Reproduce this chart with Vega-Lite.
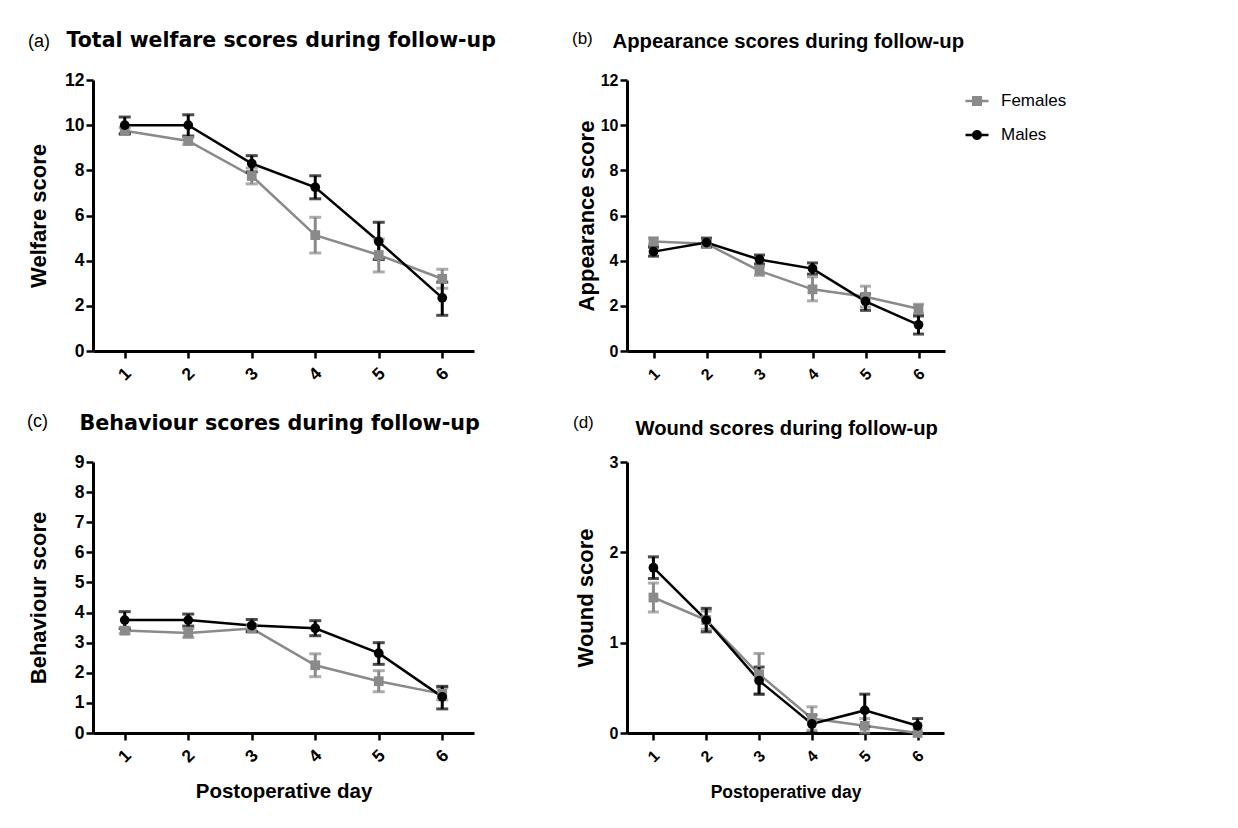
{
  "$schema": "https://vega.github.io/schema/vega-lite/v6.json",
  "background": "white",
  "padding": {"left": 26, "top": 30, "right": 5, "bottom": 5},
  "bounds": "flush",
  "columns": 2,
  "spacing": {"row": 111, "column": 153},
  "resolve": {"scale": {"color": "independent", "shape": "independent"}, "legend": {"color": "independent", "shape": "independent"}},
  "config": {
    "view": {"stroke": null},
    "font": "Liberation Sans",
    "axis": {
      "grid": false,
      "domainColor": "#000000",
      "domainWidth": 3,
      "tickColor": "#000000",
      "tickWidth": 2.5,
      "tickSize": 7,
      "labelColor": "#000000",
      "labelFont": "Liberation Sans",
      "labelFontWeight": "bold",
      "labelFontSize": 17.5,
      "labelFlush": false,
      "labelOverlap": false,
      "labelBound": false,
      "titleColor": "#000000",
      "titleFont": "Liberation Sans",
      "titleFontWeight": "bold"
    },
    "title": {"color": "#000000"}
  },
  "datasets": {
    "scores": [
      {"panel": "a", "day": 1, "group": "Females", "mean": 9.75, "lo": 9.6, "hi": 9.9},
      {"panel": "a", "day": 2, "group": "Females", "mean": 9.3, "lo": 9.15, "hi": 9.45},
      {"panel": "a", "day": 3, "group": "Females", "mean": 7.75, "lo": 7.4, "hi": 8.1},
      {"panel": "a", "day": 4, "group": "Females", "mean": 5.13, "lo": 4.34, "hi": 5.92},
      {"panel": "a", "day": 5, "group": "Females", "mean": 4.25, "lo": 3.5, "hi": 4.96},
      {"panel": "a", "day": 6, "group": "Females", "mean": 3.2, "lo": 2.78, "hi": 3.62},
      {"panel": "a", "day": 1, "group": "Males", "mean": 10.0, "lo": 9.62, "hi": 10.36},
      {"panel": "a", "day": 2, "group": "Males", "mean": 10.0, "lo": 9.52, "hi": 10.46},
      {"panel": "a", "day": 3, "group": "Males", "mean": 8.3, "lo": 7.93, "hi": 8.65},
      {"panel": "a", "day": 4, "group": "Males", "mean": 7.25, "lo": 6.74, "hi": 7.76},
      {"panel": "a", "day": 5, "group": "Males", "mean": 4.85, "lo": 4.05, "hi": 5.7},
      {"panel": "a", "day": 6, "group": "Males", "mean": 2.35, "lo": 1.58, "hi": 3.05},
      {"panel": "b", "day": 1, "group": "Females", "mean": 4.85, "lo": 4.7, "hi": 5.0},
      {"panel": "b", "day": 2, "group": "Females", "mean": 4.75, "lo": 4.65, "hi": 4.88},
      {"panel": "b", "day": 3, "group": "Females", "mean": 3.55, "lo": 3.35, "hi": 3.75},
      {"panel": "b", "day": 4, "group": "Females", "mean": 2.73, "lo": 2.22, "hi": 3.28},
      {"panel": "b", "day": 5, "group": "Females", "mean": 2.4, "lo": 1.95, "hi": 2.87},
      {"panel": "b", "day": 6, "group": "Females", "mean": 1.87, "lo": 1.65, "hi": 2.07},
      {"panel": "b", "day": 1, "group": "Males", "mean": 4.4, "lo": 4.2, "hi": 4.6},
      {"panel": "b", "day": 2, "group": "Males", "mean": 4.8, "lo": 4.6, "hi": 5.0},
      {"panel": "b", "day": 3, "group": "Males", "mean": 4.05, "lo": 3.85, "hi": 4.25},
      {"panel": "b", "day": 4, "group": "Males", "mean": 3.65, "lo": 3.4, "hi": 3.9},
      {"panel": "b", "day": 5, "group": "Males", "mean": 2.2, "lo": 1.8, "hi": 2.52},
      {"panel": "b", "day": 6, "group": "Males", "mean": 1.16, "lo": 0.75, "hi": 1.55},
      {"panel": "c", "day": 1, "group": "Females", "mean": 3.4, "lo": 3.3, "hi": 3.5},
      {"panel": "c", "day": 2, "group": "Females", "mean": 3.32, "lo": 3.17, "hi": 3.47},
      {"panel": "c", "day": 3, "group": "Females", "mean": 3.47, "lo": 3.35, "hi": 3.6},
      {"panel": "c", "day": 4, "group": "Females", "mean": 2.25, "lo": 1.87, "hi": 2.63},
      {"panel": "c", "day": 5, "group": "Females", "mean": 1.72, "lo": 1.37, "hi": 2.07},
      {"panel": "c", "day": 6, "group": "Females", "mean": 1.3, "lo": 1.1, "hi": 1.5},
      {"panel": "c", "day": 1, "group": "Males", "mean": 3.75, "lo": 3.47, "hi": 4.03},
      {"panel": "c", "day": 2, "group": "Males", "mean": 3.75, "lo": 3.55, "hi": 3.95},
      {"panel": "c", "day": 3, "group": "Males", "mean": 3.57, "lo": 3.37, "hi": 3.77},
      {"panel": "c", "day": 4, "group": "Males", "mean": 3.48, "lo": 3.23, "hi": 3.73},
      {"panel": "c", "day": 5, "group": "Males", "mean": 2.65, "lo": 2.28, "hi": 3.0},
      {"panel": "c", "day": 6, "group": "Males", "mean": 1.2, "lo": 0.8, "hi": 1.55},
      {"panel": "d", "day": 1, "group": "Females", "mean": 1.5, "lo": 1.34, "hi": 1.66},
      {"panel": "d", "day": 2, "group": "Females", "mean": 1.25, "lo": 1.15, "hi": 1.35},
      {"panel": "d", "day": 3, "group": "Females", "mean": 0.65, "lo": 0.43, "hi": 0.88},
      {"panel": "d", "day": 4, "group": "Females", "mean": 0.16, "lo": 0.03, "hi": 0.29},
      {"panel": "d", "day": 5, "group": "Females", "mean": 0.08, "lo": 0.0, "hi": 0.16},
      {"panel": "d", "day": 6, "group": "Females", "mean": 0.0, "lo": 0.0, "hi": 0.0},
      {"panel": "d", "day": 1, "group": "Males", "mean": 1.83, "lo": 1.71, "hi": 1.95},
      {"panel": "d", "day": 2, "group": "Males", "mean": 1.25, "lo": 1.12, "hi": 1.38},
      {"panel": "d", "day": 3, "group": "Males", "mean": 0.58, "lo": 0.43, "hi": 0.73},
      {"panel": "d", "day": 4, "group": "Males", "mean": 0.1, "lo": 0.0, "hi": 0.2},
      {"panel": "d", "day": 5, "group": "Males", "mean": 0.25, "lo": 0.07, "hi": 0.43},
      {"panel": "d", "day": 6, "group": "Males", "mean": 0.08, "lo": 0.0, "hi": 0.16}
    ]
  },
  "concat": [
    {
      "width": 381, "height": 271,
      "title": {"text": "(a)", "anchor": "start", "frame": "group", "font": "Liberation Sans", "fontSize": 18, "fontWeight": "normal", "baseline": "alphabetic", "dx": -65, "offset": 0, "dy": 35},
      "data": {"name": "scores"},
      "transform": [{"filter": "datum.panel === 'a'"}],
      "resolve": {"axis": {"x": "independent"}},
      "encoding": {
        "x": {"field": "day", "type": "quantitative", "scale": {"domain": [0.5, 6.5], "nice": false, "zero": false}, "axis": {"values": [1, 2, 3, 4, 5, 6], "title": null, "labelAngle": -45, "labelAlign": "center", "labelBaseline": "middle", "labelPadding": 16}},
        "color": {"field": "group", "type": "nominal", "scale": {"domain": ["Females", "Males"], "range": ["#8a8a8a", "#000000"]}, "legend": null}
      },
      "layer": [
        {"mark": {"type": "line", "strokeWidth": 2.5},
         "encoding": {
           "x": {"field": "day", "type": "quantitative", "scale": {"domain": [0.5, 6.5], "nice": false, "zero": false}, "axis": {"orient": "top", "domain": false, "ticks": false, "labels": false, "title": "Total welfare scores during follow-up", "titleFont": "DejaVu Sans", "titleFontSize": 20.5, "titleFontWeight": "bold", "titleX": -27, "titleY": -34, "titleAlign": "left", "titleBaseline": "alphabetic", "titleAngle": 0}},
           "y": {"field": "mean", "type": "quantitative", "scale": {"domain": [0, 12], "nice": false}, "axis": {"values": [0, 2, 4, 6, 8, 10, 12], "title": "Welfare score", "titleFontSize": 22, "titleAngle": -90, "titleX": -55, "titleY": 135.5, "titleAlign": "center", "titleBaseline": "middle", "labelPadding": 2}}}},
        {"mark": {"type": "errorbar", "thickness": 3, "ticks": {"size": 12, "thickness": 3}},
         "encoding": {
           "x": {"field": "day", "type": "quantitative", "axis": null},
           "y": {"field": "lo", "type": "quantitative", "title": "Welfare score", "axis": {"values": [0, 2, 4, 6, 8, 10, 12]}}, "y2": {"field": "hi"}}},
        {"mark": {"type": "point", "filled": true, "size": 95, "opacity": 1}, "encoding": {"y": {"field": "mean", "type": "quantitative", "title": "Welfare score", "axis": {"values": [0, 2, 4, 6, 8, 10, 12]}}, "shape": {"field": "group", "type": "nominal", "scale": {"domain": ["Females", "Males"], "range": ["square", "circle"]}, "legend": null}}}
      ]
    },
    {
      "width": 318, "height": 271,
      "title": {"text": "(b)", "anchor": "start", "frame": "group", "font": "Liberation Sans", "fontSize": 17, "fontWeight": "normal", "baseline": "alphabetic", "dx": -55, "offset": 0, "dy": 30},
      "data": {"name": "scores"},
      "transform": [{"filter": "datum.panel === 'b'"}],
      "resolve": {"axis": {"x": "independent"}},
      "encoding": {
        "x": {"field": "day", "type": "quantitative", "scale": {"domain": [0.5, 6.5], "nice": false, "zero": false}, "axis": {"values": [1, 2, 3, 4, 5, 6], "title": null, "labelAngle": -45, "labelAlign": "center", "labelBaseline": "middle", "labelPadding": 16, "labelFontSize": 16}},
        "color": {"field": "group", "type": "nominal", "scale": {"domain": ["Females", "Males"], "range": ["#8a8a8a", "#000000"]},
          "legend": {"orient": "none", "legendX": 340, "legendY": 11, "title": null, "padding": 0, "labelFont": "Liberation Sans", "labelFontSize": 17, "labelColor": "#000000", "symbolSize": 400, "rowPadding": 16, "labelOffset": 14, "symbolStrokeWidth": 0, "symbolOpacity": 1}}
      },
      "layer": [
        {"mark": {"type": "line", "strokeWidth": 2.5},
         "encoding": {
           "x": {"field": "day", "type": "quantitative", "scale": {"domain": [0.5, 6.5], "nice": false, "zero": false}, "axis": {"orient": "top", "domain": false, "ticks": false, "labels": false, "title": "Appearance scores during follow-up", "titleFont": "Liberation Sans", "titleFontSize": 20.3, "titleFontWeight": "bold", "titleX": -15, "titleY": -33, "titleAlign": "left", "titleBaseline": "alphabetic", "titleAngle": 0}},
           "y": {"field": "mean", "type": "quantitative", "scale": {"domain": [0, 12], "nice": false}, "axis": {"values": [0, 2, 4, 6, 8, 10, 12], "title": "Appearance score", "titleFontSize": 22, "titleAngle": -90, "titleX": -41, "titleY": 135.5, "titleAlign": "center", "titleBaseline": "middle", "labelPadding": 2, "labelFontSize": 16}}}},
        {"mark": {"type": "errorbar", "thickness": 3, "ticks": {"size": 11, "thickness": 3}},
         "encoding": {
           "x": {"field": "day", "type": "quantitative", "axis": null},
           "y": {"field": "lo", "type": "quantitative", "title": "Appearance score", "axis": {"values": [0, 2, 4, 6, 8, 10, 12]}}, "y2": {"field": "hi"}}},
        {"transform": [{"filter": "datum.group === 'Females'"}],
         "mark": {"type": "point", "shape": "square", "filled": true, "size": 95, "opacity": 1},
         "encoding": {"y": {"field": "mean", "type": "quantitative", "title": "Appearance score", "axis": {"values": [0, 2, 4, 6, 8, 10, 12]}}}},
        {"transform": [{"filter": "datum.group === 'Males'"}],
         "mark": {"type": "point", "shape": "circle", "filled": true, "size": 95, "opacity": 1},
         "encoding": {"x": {"field": "day", "type": "quantitative", "axis": null}, "y": {"field": "mean", "type": "quantitative", "title": "Appearance score", "axis": {"values": [0, 2, 4, 6, 8, 10, 12]}}}},
        {"transform": [{"filter": "false"}],
         "mark": {"type": "point", "filled": true, "opacity": 1},
         "encoding": {
           "x": {"field": "day", "type": "quantitative", "axis": null},
           "y": {"field": "mean", "type": "quantitative", "title": "Appearance score", "axis": {"values": [0, 2, 4, 6, 8, 10, 12]}},
           "shape": {"field": "group", "type": "nominal", "scale": {"domain": ["Females", "Males"], "range": ["M-1.15,-0.12H1.15V0.12H-1.15Z M-0.5,-0.5H0.5V0.5H-0.5Z", "M-1.15,-0.12H1.15V0.12H-1.15Z M0.5,0A0.5,0.5 0 1,1 -0.5,0A0.5,0.5 0 1,1 0.5,0Z"]},
             "legend": {"orient": "none", "legendX": 340, "legendY": 11, "title": null, "padding": 0, "labelFont": "Liberation Sans", "labelFontSize": 17, "labelColor": "#000000", "symbolSize": 400, "rowPadding": 16, "labelOffset": 14, "symbolStrokeWidth": 0, "symbolOpacity": 1}}}}
      ]
    },
    {
      "width": 381, "height": 271,
      "title": {"text": "(c)", "anchor": "start", "frame": "group", "font": "Liberation Sans", "fontSize": 18, "fontWeight": "normal", "baseline": "alphabetic", "dx": -66, "offset": 0, "dy": 33},
      "data": {"name": "scores"},
      "transform": [{"filter": "datum.panel === 'c'"}],
      "resolve": {"axis": {"x": "independent"}},
      "encoding": {
        "x": {"field": "day", "type": "quantitative", "scale": {"domain": [0.5, 6.5], "nice": false, "zero": false}, "axis": {"values": [1, 2, 3, 4, 5, 6], "title": "Postoperative day", "titleFontSize": 20.5, "titleY": 64, "titleBaseline": "alphabetic", "labelAngle": -45, "labelAlign": "center", "labelBaseline": "middle", "labelPadding": 16}},
        "color": {"field": "group", "type": "nominal", "scale": {"domain": ["Females", "Males"], "range": ["#8a8a8a", "#000000"]}, "legend": null}
      },
      "layer": [
        {"mark": {"type": "line", "strokeWidth": 2.5},
         "encoding": {
           "x": {"field": "day", "type": "quantitative", "scale": {"domain": [0.5, 6.5], "nice": false, "zero": false}, "axis": {"orient": "top", "domain": false, "ticks": false, "labels": false, "title": "Behaviour scores during follow-up", "titleFont": "DejaVu Sans", "titleFontSize": 20.7, "titleFontWeight": "bold", "titleX": -14, "titleY": -33, "titleAlign": "left", "titleBaseline": "alphabetic", "titleAngle": 0}},
           "y": {"field": "mean", "type": "quantitative", "scale": {"domain": [0, 9], "nice": false}, "axis": {"values": [0, 1, 2, 3, 4, 5, 6, 7, 8, 9], "tickCount": 10, "title": "Behaviour score", "titleFontSize": 22, "titleAngle": -90, "titleX": -55, "titleY": 135.5, "titleAlign": "center", "titleBaseline": "middle", "labelPadding": 2}}}},
        {"mark": {"type": "errorbar", "thickness": 3, "ticks": {"size": 12, "thickness": 3}},
         "encoding": {
           "x": {"field": "day", "type": "quantitative", "axis": null},
           "y": {"field": "lo", "type": "quantitative", "title": "Behaviour score", "axis": {"values": [0, 1, 2, 3, 4, 5, 6, 7, 8, 9], "tickCount": 10}}, "y2": {"field": "hi"}}},
        {"mark": {"type": "point", "filled": true, "size": 95, "opacity": 1}, "encoding": {"y": {"field": "mean", "type": "quantitative", "title": "Behaviour score", "axis": {"values": [0, 1, 2, 3, 4, 5, 6, 7, 8, 9], "tickCount": 10}}, "shape": {"field": "group", "type": "nominal", "scale": {"domain": ["Females", "Males"], "range": ["square", "circle"]}, "legend": null}}}
      ]
    },
    {
      "width": 317, "height": 271,
      "title": {"text": "(d)", "anchor": "start", "frame": "group", "font": "Liberation Sans", "fontSize": 17, "fontWeight": "normal", "baseline": "alphabetic", "dx": -54, "offset": 0, "dy": 27},
      "data": {"name": "scores"},
      "transform": [{"filter": "datum.panel === 'd'"}],
      "resolve": {"axis": {"x": "independent"}},
      "encoding": {
        "x": {"field": "day", "type": "quantitative", "scale": {"domain": [0.5, 6.5], "nice": false, "zero": false}, "axis": {"values": [1, 2, 3, 4, 5, 6], "title": "Postoperative day", "titleFontSize": 17.5, "titleY": 64, "titleBaseline": "alphabetic", "labelAngle": -45, "labelAlign": "center", "labelBaseline": "middle", "labelPadding": 16, "labelFontSize": 16}},
        "color": {"field": "group", "type": "nominal", "scale": {"domain": ["Females", "Males"], "range": ["#8a8a8a", "#000000"]}, "legend": null}
      },
      "layer": [
        {"mark": {"type": "line", "strokeWidth": 2.5},
         "encoding": {
           "x": {"field": "day", "type": "quantitative", "scale": {"domain": [0.5, 6.5], "nice": false, "zero": false}, "axis": {"orient": "top", "domain": false, "ticks": false, "labels": false, "title": "Wound scores during follow-up", "titleFont": "Liberation Sans", "titleFontSize": 20.2, "titleFontWeight": "bold", "titleX": 8, "titleY": -28, "titleAlign": "left", "titleBaseline": "alphabetic", "titleAngle": 0}},
           "y": {"field": "mean", "type": "quantitative", "scale": {"domain": [0, 3], "nice": false}, "axis": {"values": [0, 1, 2, 3], "format": "d", "title": "Wound score", "titleFontSize": 22, "titleAngle": -90, "titleX": -42, "titleY": 135.5, "titleAlign": "center", "titleBaseline": "middle", "labelPadding": 2, "labelFontSize": 16}}}},
        {"mark": {"type": "errorbar", "thickness": 3, "ticks": {"size": 11, "thickness": 3}},
         "encoding": {
           "x": {"field": "day", "type": "quantitative", "axis": null},
           "y": {"field": "lo", "type": "quantitative", "title": "Wound score", "axis": {"values": [0, 1, 2, 3], "format": "d"}}, "y2": {"field": "hi"}}},
        {"mark": {"type": "point", "filled": true, "size": 95, "opacity": 1}, "encoding": {"y": {"field": "mean", "type": "quantitative", "title": "Wound score", "axis": {"values": [0, 1, 2, 3], "format": "d"}}, "shape": {"field": "group", "type": "nominal", "scale": {"domain": ["Females", "Males"], "range": ["square", "circle"]}, "legend": null}}}
      ]
    }
  ]
}
